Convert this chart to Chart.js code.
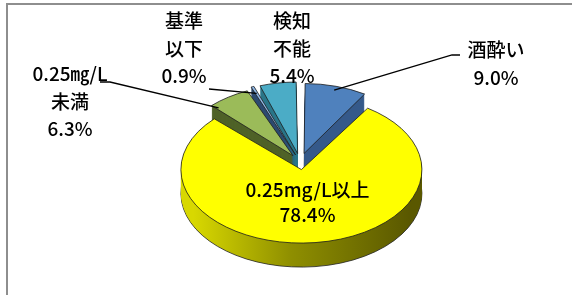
<!DOCTYPE html>
<html>
<head>
<meta charset="utf-8">
<script src="https://cdn.jsdelivr.net/npm/chart.js@4"></script>
<style>
  html, body { margin: 0; padding: 0; background: #fff; }
</style>
</head>
<body>
<canvas id="pieChart" width="572" height="295"></canvas>
<script>
// slices, clockwise from 12 o'clock
const categories = [['酒酔い'], ['0.25mg/L以上'], ['0.25㎎/L', '未満'], ['基準', '以下'], ['検知', '不能']];
const shares = [9.0, 78.4, 6.3, 0.9, 5.4];
const shareLabels = ['9.0%', '78.4%', '6.3%', '0.9%', '5.4%'];

const topColors = ['#4f81bd', '#ffff00', '#9bbb59', '#8db4e2', '#4bacc6'];
const sideColors = ['#35598a', null, '#4f6228', '#2c4a70', '#2a7689'];
const explode = [58, 50, 50, 50, 56];

// label layout (centre of first text line), leader start points, where the leader meets the slice
const labelAt = [[496, 50], null, [70, 74], [184, 21], [292, 21]];
const leaderFrom = [[[460, 55], [452, 55]], null, [[100, 82], [110, 82]], [[209, 89]], null];
const leaderAngle = [0.5, 0.5, 0.08, 0.5, 0.5];

const tilt = 0.61;
const depth = 24;
const pieCenterY = 162;
const lineH = 27.5;

function tiltCtx(ctx, chart, shift) {
    const cy = (chart.chartArea.top + chart.chartArea.bottom) / 2;
    ctx.translate(0, pieCenterY + shift);
    ctx.scale(1, tilt);
    ctx.translate(0, -cy);
}

function toScreen(chart, x, y) {
    const cy = (chart.chartArea.top + chart.chartArea.bottom) / 2;
    return [x, pieCenterY + (y - cy) * tilt];
}

function drawCopy(ctx, arc, fill, stroke) {
    const copy = Object.create(Object.getPrototypeOf(arc));
    Object.assign(copy, arc);
    copy.options = Object.assign({}, arc.options, {
        backgroundColor: fill,
        borderColor: stroke || fill,
        borderWidth: stroke ? 1 : 0
    });
    copy.draw(ctx);
}

// point on a slice's outer edge, fraction f of the way from its start angle
function edgePoint(chart, arc, f, rf) {
    const mid = (arc.startAngle + arc.endAngle) / 2;
    const ang = arc.startAngle + (arc.endAngle - arc.startAngle) * f;
    const off = (arc.options.offset || 0) / 4;
    const r = arc.outerRadius * rf;
    return toScreen(chart,
        arc.x + Math.cos(mid) * off + Math.cos(ang) * r,
        arc.y + Math.sin(mid) * off + Math.sin(ang) * r);
}

const pie3d = {
    id: 'pie3d',
    beforeDraw(chart) {
        const ctx = chart.ctx;
        ctx.save();
        ctx.strokeStyle = '#8e8e8e';
        ctx.lineWidth = 2;
        ctx.strokeRect(7, 4, 700, 500);
        ctx.restore();
    },
    beforeDatasetsDraw(chart) {
        const ctx = chart.ctx;
        const arcs = chart.getDatasetMeta(0).data;
        const cx = arcs[0].x;
        const r = arcs[0].outerRadius;
        const grad = ctx.createLinearGradient(cx - r, 0, cx + r, 0);
        grad.addColorStop(0, '#d8d800');
        grad.addColorStop(0.45, '#8f8f00');
        grad.addColorStop(1, '#5a5800');
        for (let k = depth; k >= 1; k--) {
            arcs.forEach((arc, i) => {
                ctx.save();
                tiltCtx(ctx, chart, k);
                const fill = sideColors[i] || grad;
                drawCopy(ctx, arc, fill, k === depth ? '#222' : null);
                ctx.restore();
            });
        }
        ctx.save();
        tiltCtx(ctx, chart, 0);
    },
    afterDatasetsDraw(chart) {
        const ctx = chart.ctx;
        ctx.restore();
        const arcs = chart.getDatasetMeta(0).data;

        ctx.save();
        ctx.strokeStyle = '#000';
        ctx.lineWidth = 1.3;
        leaderFrom.forEach((pts, i) => {
            if (!pts) return;
            const end = edgePoint(chart, arcs[i], leaderAngle[i], 1);
            ctx.beginPath();
            ctx.moveTo(pts[0][0], pts[0][1]);
            pts.slice(1).forEach(p => ctx.lineTo(p[0], p[1]));
            ctx.lineTo(end[0], end[1]);
            ctx.stroke();
        });

        ctx.fillStyle = '#000';
        ctx.font = '500 19px "Noto Sans CJK JP"';
        ctx.textAlign = 'center';
        ctx.textBaseline = 'middle';
        categories.forEach((lines, i) => {
            const all = lines.concat([shareLabels[i]]);
            const step = labelAt[i] ? lineH : 24.5;
            let x, y;
            if (labelAt[i]) {
                x = labelAt[i][0];
                y = labelAt[i][1];
            } else {
                const p = edgePoint(chart, arcs[i], 0.5, 0.5);
                x = p[0];
                y = p[1] - (all.length - 1) * step / 2;
            }
            all.forEach((t, j) => ctx.fillText(t, x, y + j * step));
        });
        ctx.restore();
    }
};

const ctx = document.getElementById('pieChart').getContext('2d');
new Chart(ctx, {
    type: 'pie',
    data: {
        labels: categories,
        datasets: [{
            data: shares,
            backgroundColor: topColors,
            borderColor: '#1e1e1e',
            borderWidth: 1,
            offset: explode,
            clip: false
        }]
    },
    options: {
        responsive: false,
        animation: false,
        radius: 108,
        layout: { padding: { left: 28 } },
        plugins: {
            legend: { display: false },
            tooltip: { enabled: false }
        }
    },
    plugins: [pie3d]
});
</script>
</body>
</html>
